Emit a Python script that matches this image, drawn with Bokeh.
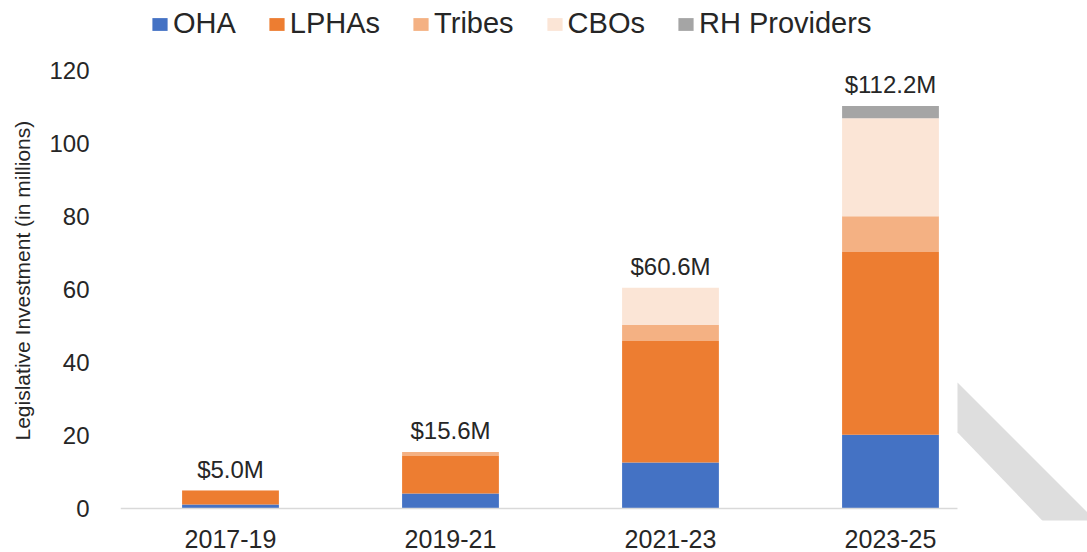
from bokeh.plotting import figure
from bokeh.models import (ColumnDataSource, Range1d, FixedTicker, Legend, LegendItem,
                          PolyAnnotation, Title)
from bokeh.core.properties import value
from bokeh.embed import file_html
from bokeh.resources import INLINE

# ---- data ----
periods = ["2017-19", "2019-21", "2021-23", "2023-25"]
oha = [1.1, 4.1, 12.6, 20.2]
lphas = [3.8, 10.3, 33.3, 50.1]
tribes = [0.1, 1.1, 4.4, 9.8]
cbos = [0.0, 0.0, 10.2, 26.8]
rh_providers = [0.0, 0.0, 0.0, 3.4]
total_labels = ["$5.0M", "$15.6M", "$60.6M", "$112.2M"]
series_names = ["OHA", "LPHAs", "Tribes", "CBOs", "RH Providers"]
series_keys = ["oha", "lphas", "tribes", "cbos", "rh"]
colors = ["#4472C4", "#ED7D31", "#F4B183", "#FBE5D6", "#A5A5A5"]
y_ticks = [0, 20, 40, 60, 80, 100, 120]

FONT = "Liberation Sans"
TXT = "#262626"

xs = list(range(len(periods)))
totals = [a + b + c + d + e for a, b, c, d, e in zip(oha, lphas, tribes, cbos, rh_providers)]
source = ColumnDataSource(dict(x=xs, oha=oha, lphas=lphas, tribes=tribes, cbos=cbos,
                               rh=rh_providers, total=totals, label=total_labels))

p = figure(width=1087, height=552, output_backend="svg", toolbar_location=None,
           x_range=Range1d(-0.5, 3.8955), y_range=Range1d(-3.288, 139.18),
           min_border_left=100, min_border_right=0, min_border_top=0,
           min_border_bottom=32)
p.outline_line_color = None
p.xgrid.visible = False
p.ygrid.visible = False

# decorative grey stripe in the lower-right corner (frame-relative screen units)
p.add_layout(PolyAnnotation(xs=[837, 1020, 965, 837], ys=[138, -45, -45, 88],
                            xs_units="screen", ys_units="screen",
                            fill_color="#dedede", fill_alpha=1.0, line_color=None,
                            level="underlay"))

renderers = p.vbar_stack(series_keys, x="x", width=0.44, fill_color=colors,
                         line_color=None, source=source)

p.text(x="x", y="total", text="label", source=source, text_align="center",
       text_baseline="alphabetic", y_offset=-21, text_font=value(FONT),
       text_font_size="24px", text_color=TXT)

# category baseline (x axis rule), ending where the grey stripe begins
p.segment(x0=[-0.5], y0=[0], x1=[3.3045], y1=[0], line_color="#d9d9d9", line_width=1.5)

# x axis
p.xaxis.ticker = FixedTicker(ticks=xs)
p.xaxis.major_label_overrides = {i: lab for i, lab in zip(xs, periods)}
p.xaxis.axis_line_color = None
p.xaxis.major_tick_line_color = None
p.xaxis.minor_tick_line_color = None
p.xaxis.major_label_standoff = 3
p.xaxis.major_label_text_font = FONT
p.xaxis.major_label_text_font_size = "25px"
p.xaxis.major_label_text_color = TXT

# y axis
p.yaxis.ticker = FixedTicker(ticks=y_ticks)
p.yaxis.axis_line_color = None
p.yaxis.major_tick_line_color = None
p.yaxis.minor_tick_line_color = None
p.yaxis.major_label_standoff = 25
p.yaxis.major_label_text_font = FONT
p.yaxis.major_label_text_font_size = "24px"
p.yaxis.major_label_text_color = TXT

p.add_layout(Title(text="Legislative Investment (in millions)", align="left", offset=80,
                   vertical_align="top",
                   text_font=FONT, text_font_size="21px", text_font_style="normal",
                   text_color=TXT, standoff=21), "left")

legend = Legend(items=[LegendItem(label=n, renderers=[r]) for n, r in zip(series_names, renderers)],
                orientation="horizontal", location=(30, 480),
                label_text_font=FONT, label_text_font_size="29px", label_text_color=TXT,
                glyph_width=19, glyph_height=16, label_standoff=4, spacing=31,
                label_height=32, padding=5, margin=0, border_line_color=None,
                background_fill_alpha=0)
p.add_layout(legend, "center")

open("out.html", "w").write(file_html(p, INLINE))
